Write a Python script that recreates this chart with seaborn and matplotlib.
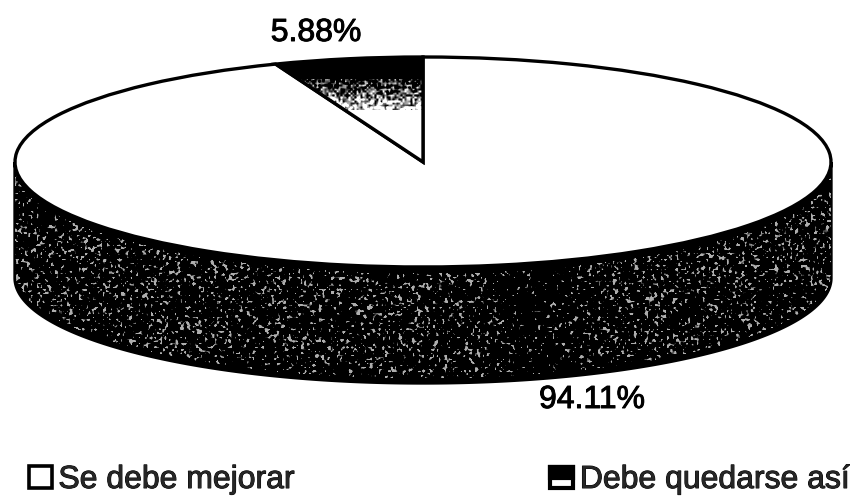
import numpy as np
import matplotlib
matplotlib.use("Agg")
import matplotlib.pyplot as plt
import matplotlib.patheffects as pe
from matplotlib.legend_handler import HandlerBase
from matplotlib.patches import Patch, Polygon, Rectangle
import seaborn as sns

categories = ["Se debe mejorar", "Debe quedarse así"]
shares = [94.11, 5.88]
share_labels = ["94.11%", "5.88%"]

W, H = 850, 496
CX, CY = 423, 162          # centre of the top face, px
RX, RY = 408, 105          # semi-axes of the top face, px
DEPTH = 116 / RY           # rim height in axis units

sns.set_theme(style="white", font="Liberation Sans")
fig = plt.figure(figsize=(W / 100, H / 100), dpi=100, facecolor="white")
ax = fig.add_axes([0, 0, 1, 1])

# Top face: a unit pie stretched into an ellipse by the axis scales.
wedges, _ = ax.pie(shares, startangle=90, counterclock=False, radius=1,
                   colors=["white", "white"],
                   wedgeprops=dict(edgecolor="black", linewidth=2.4, zorder=3))
ax.set_aspect("auto")
xlim = (-CX / RX, (W - CX) / RX)
ylim = (-(H - CY) / RY, CY / RY)
ax.axis("off")


def grain(cell, seed):
    """Deterministic speckle field in [0, 1], one value per pixel."""
    rows = np.arange(H // cell + 2)[:, None]
    cols = np.arange(W // cell + 2)[None, :]
    v = np.sin(rows * 12.9898 + cols * 78.233 + seed) * 43758.5453
    v = v - np.floor(v)
    v = np.repeat(np.repeat(v, cell, axis=0), cell, axis=1)[:H, :W]
    # light smoothing rounds off the square cells
    return (v + np.roll(v, 1, 0) + np.roll(v, 1, 1) + np.roll(v, (1, 1), (0, 1))) / 4


# Rim of the cylinder, filled with a dark speckled print texture.
t = np.linspace(np.pi, 2 * np.pi, 300)
upper = np.column_stack([np.cos(t), np.sin(t)])
lower = upper[::-1] - [0, DEPTH]
rim = Polygon(np.vstack([upper, lower]), closed=True, facecolor="black",
              edgecolor="black", linewidth=2.4, zorder=1)
ax.add_patch(rim)

fine = grain(2, 0.0)
coarse = grain(3, 1.7)
xx = np.arange(W)[None, :]
yy = np.arange(H)[:, None]
# fewer light specks in the dark band right of centre
dark_band = np.exp(-((xx - 530) / 40.0) ** 2) * 0.12
# a solid black strip runs along the upper and lower edges of the rim
edge_top = CY + RY * np.sqrt(np.clip(1 - ((xx - CX) / RX) ** 2, 0, 1))
inside = ((yy - edge_top) > 6) & ((yy - edge_top) < 111)
rim_tex = np.clip((fine * 0.55 + coarse * 0.45 - 0.655 - dark_band) / 0.10, 0, 1) * 0.68 * inside
im = ax.imshow(rim_tex, cmap="gray", vmin=0, vmax=1, extent=(*xlim, *ylim),
               origin="upper", aspect="auto", zorder=2, interpolation="bilinear")
im.set_clip_path(rim)

# Small slice: solid black at the rim fading through speckle to white.
fade = np.clip((yy - 78) / 32.0, 0, 1)
slice_tex = np.clip(fade ** 1.5 + (grain(2, 3.1) - 0.5) * 1.6 * ((fade > 0) & (fade < 1)), 0, 1) * np.ones((H, W))
im2 = ax.imshow(slice_tex, cmap="gray", vmin=0, vmax=1, extent=(*xlim, *ylim),
                origin="upper", aspect="auto", zorder=4, interpolation="bilinear")
im2.set_clip_path(wedges[1])
wedges[1].set_zorder(5)
wedges[1].set_facecolor("none")
ax.set_xlim(xlim)
ax.set_ylim(ylim)

stroke = [pe.withStroke(linewidth=0.7, foreground="black")]


def px(x, y):
    return (x - CX) / RX, (CY - y) / RY


ax.text(*px(316, 33), share_labels[1], ha="center", va="center", fontsize=23,
        color="black", path_effects=stroke, zorder=6)
ax.text(*px(592, 400), share_labels[0], ha="center", va="center", fontsize=23,
        color="black", path_effects=stroke, zorder=6)


class HalfFilledBox(HandlerBase):
    """Legend key: an outlined box whose upper part is black."""

    def create_artists(self, legend, orig, xd, yd, width, height, fontsize, trans):
        box = Rectangle((xd, yd), width, height, facecolor="white",
                        edgecolor="black", linewidth=3, transform=trans)
        top = Rectangle((xd, yd + height * 0.5), width, height * 0.5,
                        facecolor="black", edgecolor="black", linewidth=3,
                        transform=trans)
        return [box, top]


handles = [Patch(facecolor="white", edgecolor="black", linewidth=2.6),
           Patch(facecolor="black", edgecolor="black")]
leg = ax.legend(handles, categories, ncol=2, frameon=False, fontsize=23,
                loc="lower left", bbox_to_anchor=(29 / W, 1 - 495 / H),
                bbox_transform=fig.transFigure,
                handlelength=0.72, handleheight=0.66, handletextpad=0.2,
                columnspacing=8.0, borderpad=0, borderaxespad=0,
                handler_map={handles[1]: HalfFilledBox()})
for txt in leg.get_texts():
    txt.set_path_effects(stroke)

fig.savefig("out.png", dpi=100, facecolor="white")
